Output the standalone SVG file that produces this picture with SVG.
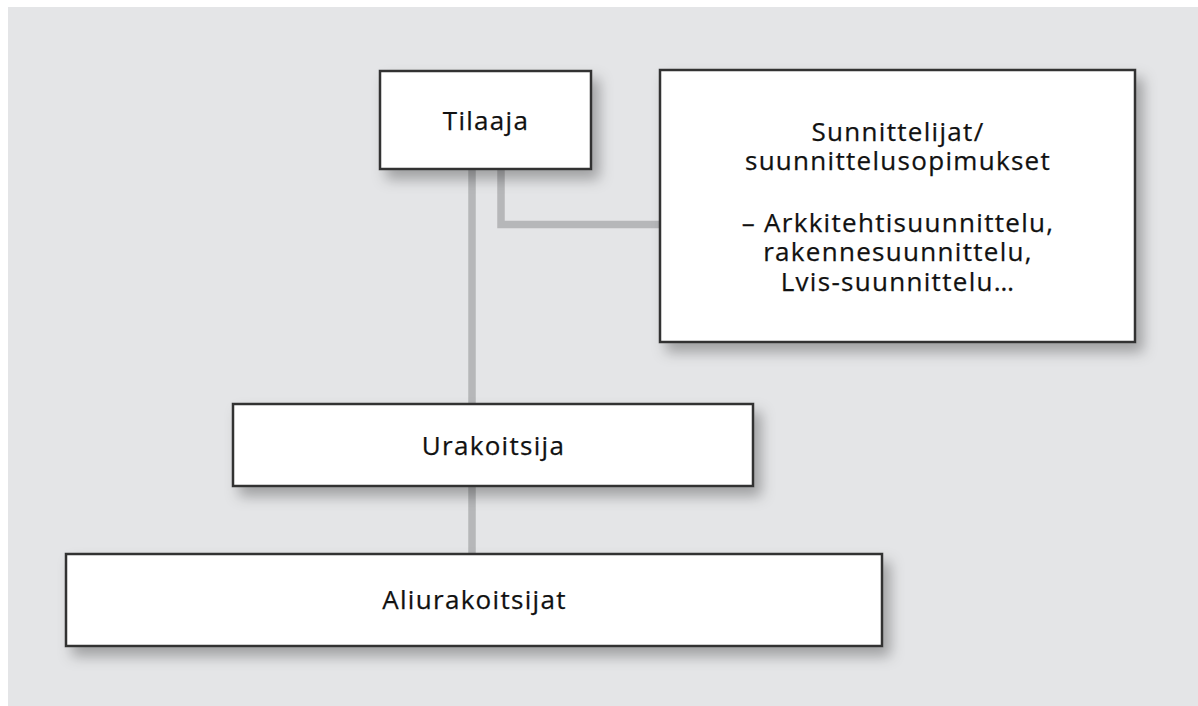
<svg xmlns="http://www.w3.org/2000/svg" width="1198" height="706" viewBox="0 0 1198 706">
<style>
.box{fill:#ffffff;stroke:#333333;stroke-width:2.5;filter:url(#sh)}
.lbl{font-family:"Open Sans","Liberation Sans",sans-serif;font-size:26px;letter-spacing:1.3px;fill:#111111;stroke:#111111;stroke-width:0.25;text-anchor:middle}
.con{fill:none;stroke:#b6b7b9;stroke-width:7.5}
</style>
<defs>
<filter id="sh" x="-10%" y="-20%" width="130%" height="160%">
<feDropShadow dx="7" dy="9" stdDeviation="7" flood-color="#000" flood-opacity="0.3"/>
</filter>
</defs>
<rect x="0" y="0" width="1198" height="706" fill="#ffffff"/>
<rect x="8" y="7" width="1190" height="699" fill="#e4e5e7"/>
<g id="connectors">
<line class="con" x1="472" y1="169" x2="472" y2="404"/>
<line class="con" x1="472" y1="486" x2="472" y2="554"/>
<polyline class="con" points="501,169 501,224.5 660,224.5"/>
</g>
<g id="tilaaja">
<rect class="box" x="380" y="71" width="211" height="98"/>
<text class="lbl" x="486" y="130">Tilaaja</text>
</g>
<g id="suunnittelijat">
<rect class="box" x="660" y="70" width="475" height="272"/>
<text class="lbl" x="898" y="141">Sunnittelijat/</text>
<text class="lbl" x="898" y="170">suunnittelusopimukset</text>
<text class="lbl" x="898" y="231.5">– Arkkitehtisuunnittelu,</text>
<text class="lbl" x="898" y="261">rakennesuunnittelu,</text>
<text class="lbl" x="898" y="290.5">Lvis-suunnittelu…</text>
</g>
<g id="urakoitsija">
<rect class="box" x="233" y="404" width="520" height="82"/>
<text class="lbl" x="493.5" y="454.5">Urakoitsija</text>
</g>
<g id="aliurakoitsijat">
<rect class="box" x="66" y="554" width="816" height="92"/>
<text class="lbl" x="474.5" y="608.5">Aliurakoitsijat</text>
</g>
</svg>
